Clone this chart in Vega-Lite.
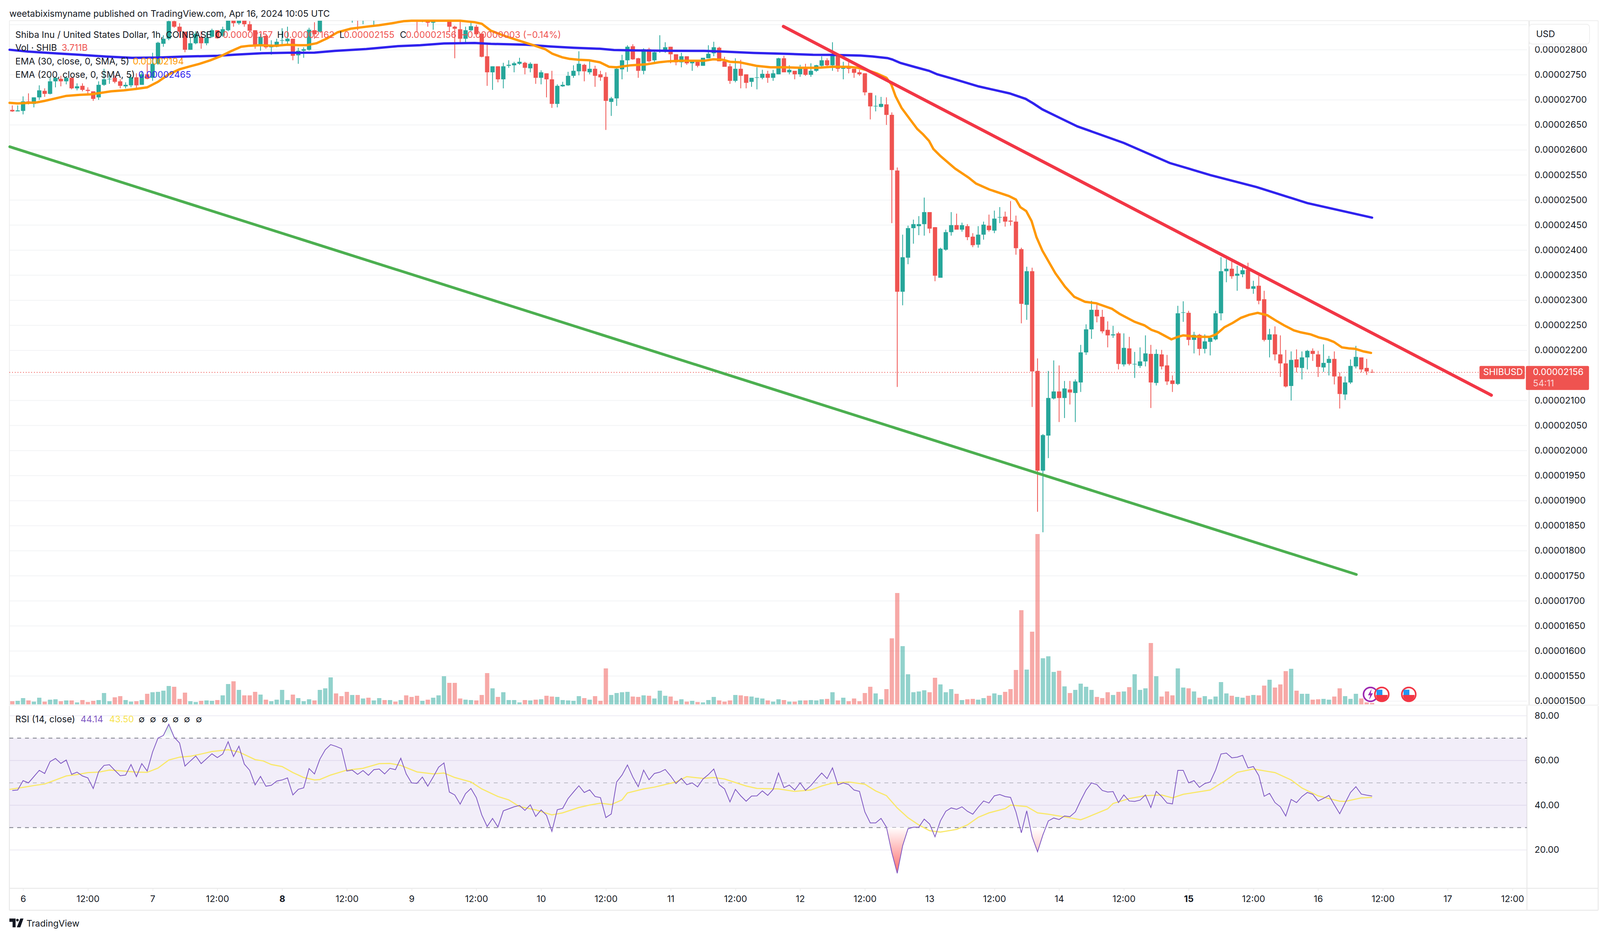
{"$schema":"https://vega.github.io/schema/vega-lite/v6.json","background":"white","padding":0,"autosize":{"type":"fit","contains":"padding"},"width":4310,"height":2396,
"config":{"view":{"stroke":null},"font":"Inter","text":{"font":"Inter"},"axis":{"labelFont":"Inter"}},
"datasets":{
"candles":[
{"hour":-2,"open":2680,"high":2689,"low":2676,"close":2677,"vol":8,"rsi":46.6},{"hour":-1,"open":2677,"high":2689,"low":2677,"close":2679,"vol":9,"rsi":46.8},{"hour":0,"open":2678,"high":2707,"low":2671,"close":2697,"vol":16,"rsi":51},{"hour":1,"open":2697,"high":2713,"low":2691,"close":2692,"vol":10,"rsi":50},{"hour":2,"open":2692,"high":2705,"low":2685,"close":2705,"vol":7,"rsi":52.8},{"hour":3,"open":2705,"high":2729,"low":2700,"close":2719,"vol":17,"rsi":55.6},{"hour":4,"open":2718,"high":2723,"low":2706,"close":2712,"vol":7,"rsi":54.2},{"hour":5,"open":2712,"high":2745,"low":2711,"close":2737,"vol":12,"rsi":59.5},{"hour":6,"open":2737,"high":2745,"low":2725,"close":2744,"vol":13,"rsi":60.9},{"hour":7,"open":2742,"high":2748,"low":2727,"close":2737,"vol":8,"rsi":58.7},{"hour":8,"open":2737,"high":2746,"low":2731,"close":2744,"vol":10,"rsi":60.2},{"hour":9,"open":2744,"high":2744,"low":2721,"close":2723,"vol":10,"rsi":53.8},{"hour":10,"open":2723,"high":2733,"low":2719,"close":2727,"vol":5,"rsi":54.8},{"hour":11,"open":2728,"high":2733,"low":2717,"close":2720,"vol":11,"rsi":53.1},{"hour":12,"open":2720,"high":2725,"low":2709,"close":2718,"vol":6,"rsi":52.2},{"hour":13,"open":2717,"high":2717,"low":2698,"close":2702,"vol":9,"rsi":47.5},{"hour":14,"open":2705,"high":2737,"low":2700,"close":2730,"vol":11,"rsi":55},{"hour":15,"open":2730,"high":2762,"low":2728,"close":2741,"vol":29,"rsi":57.8},{"hour":16,"open":2741,"high":2750,"low":2732,"close":2742,"vol":8,"rsi":58.1},{"hour":17,"open":2744,"high":2749,"low":2733,"close":2736,"vol":18,"rsi":55.6},{"hour":18,"open":2737,"high":2741,"low":2723,"close":2728,"vol":21,"rsi":53.2},{"hour":19,"open":2727,"high":2735,"low":2723,"close":2730,"vol":11,"rsi":53.5},{"hour":20,"open":2729,"high":2750,"low":2725,"close":2745,"vol":7,"rsi":58.2},{"hour":21,"open":2745,"high":2753,"low":2723,"close":2729,"vol":8,"rsi":52.8},{"hour":22,"open":2730,"high":2758,"low":2730,"close":2751,"vol":11,"rsi":58.6},{"hour":23,"open":2751,"high":2772,"low":2741,"close":2742,"vol":27,"rsi":55.3},{"hour":24,"open":2744,"high":2794,"low":2738,"close":2772,"vol":31,"rsi":63.8},{"hour":25,"open":2772,"high":2816,"low":2770,"close":2814,"vol":32,"rsi":70},{"hour":26,"open":2812,"high":2829,"low":2806,"close":2822,"vol":35,"rsi":71.2},{"hour":27,"open":2822,"high":2861,"low":2819,"close":2857,"vol":47,"rsi":76.2},{"hour":28,"open":2857,"high":2862,"low":2844,"close":2846,"vol":45,"rsi":70.4},{"hour":29,"open":2846,"high":2853,"low":2824,"close":2836,"vol":14,"rsi":67.8},{"hour":30,"open":2836,"high":2836,"low":2795,"close":2800,"vol":30,"rsi":57.5},{"hour":31,"open":2800,"high":2824,"low":2800,"close":2813,"vol":8,"rsi":59.8},{"hour":32,"open":2813,"high":2837,"low":2811,"close":2832,"vol":6,"rsi":62},{"hour":33,"open":2826,"high":2837,"low":2802,"close":2813,"vol":9,"rsi":58.6},{"hour":34,"open":2813,"high":2835,"low":2809,"close":2824,"vol":10,"rsi":60.8},{"hour":35,"open":2826,"high":2842,"low":2824,"close":2839,"vol":9,"rsi":63},{"hour":36,"open":2839,"high":2839,"low":2822,"close":2823,"vol":11,"rsi":61.3},{"hour":37,"open":2828,"high":2846,"low":2826,"close":2841,"vol":23,"rsi":62.9},{"hour":38,"open":2839,"high":2870,"low":2837,"close":2860,"vol":52,"rsi":68.4},{"hour":39,"open":2858,"high":2865,"low":2846,"close":2853,"vol":59,"rsi":61.8},{"hour":40,"open":2853,"high":2870,"low":2850,"close":2865,"vol":37,"rsi":66.4},{"hour":41,"open":2860,"high":2868,"low":2846,"close":2851,"vol":23,"rsi":58.4},{"hour":42,"open":2851,"high":2857,"low":2835,"close":2838,"vol":23,"rsi":55.6},{"hour":43,"open":2839,"high":2839,"low":2802,"close":2807,"vol":32,"rsi":49.1},{"hour":44,"open":2807,"high":2832,"low":2798,"close":2826,"vol":25,"rsi":52.9},{"hour":45,"open":2828,"high":2829,"low":2802,"close":2805,"vol":12,"rsi":48.5},{"hour":46,"open":2805,"high":2819,"low":2790,"close":2807,"vol":8,"rsi":48.9},{"hour":47,"open":2806,"high":2822,"low":2805,"close":2816,"vol":12,"rsi":50.8},{"hour":48,"open":2818,"high":2843,"low":2808,"close":2819,"vol":37,"rsi":51.3},{"hour":49,"open":2817,"high":2846,"low":2809,"close":2822,"vol":11,"rsi":52.2},{"hour":50,"open":2822,"high":2822,"low":2779,"close":2788,"vol":25,"rsi":44.6},{"hour":51,"open":2789,"high":2804,"low":2772,"close":2798,"vol":16,"rsi":47.1},{"hour":52,"open":2798,"high":2805,"low":2784,"close":2801,"vol":8,"rsi":47.8},{"hour":53,"open":2800,"high":2844,"low":2798,"close":2840,"vol":13,"rsi":56.4},{"hour":54,"open":2839,"high":2855,"low":2822,"close":2831,"vol":10,"rsi":54},{"hour":55,"open":2836,"high":2885,"low":2835,"close":2875,"vol":37,"rsi":60.6},{"hour":56,"open":2875,"high":2900,"low":2865,"close":2890,"vol":41,"rsi":64.8},{"hour":57,"open":2890,"high":2925,"low":2885,"close":2915,"vol":69,"rsi":67.1},{"hour":58,"open":2915,"high":2925,"low":2895,"close":2905,"vol":28,"rsi":66.3},{"hour":59,"open":2905,"high":2915,"low":2885,"close":2895,"vol":21,"rsi":65.3},{"hour":60,"open":2895,"high":2900,"low":2870,"close":2885,"vol":32,"rsi":55.3},{"hour":61,"open":2870,"high":2895,"low":2854,"close":2885,"vol":24,"rsi":55.7},{"hour":62,"open":2885,"high":2892,"low":2839,"close":2870,"vol":24,"rsi":53.8},{"hour":63,"open":2870,"high":2890,"low":2851,"close":2880,"vol":15,"rsi":55.5},{"hour":64,"open":2880,"high":2888,"low":2862,"close":2872,"vol":17,"rsi":53.4},{"hour":65,"open":2872,"high":2895,"low":2849,"close":2885,"vol":10,"rsi":55.9},{"hour":66,"open":2885,"high":2905,"low":2875,"close":2895,"vol":16,"rsi":56.2},{"hour":67,"open":2895,"high":2900,"low":2870,"close":2885,"vol":11,"rsi":54},{"hour":68,"open":2885,"high":2905,"low":2878,"close":2895,"vol":11,"rsi":56.5},{"hour":69,"open":2895,"high":2900,"low":2878,"close":2888,"vol":7,"rsi":55.9},{"hour":70,"open":2888,"high":2905,"low":2880,"close":2895,"vol":11,"rsi":61},{"hour":71,"open":2895,"high":2905,"low":2870,"close":2885,"vol":23,"rsi":54},{"hour":72,"open":2885,"high":2892,"low":2865,"close":2878,"vol":19,"rsi":50},{"hour":73,"open":2878,"high":2890,"low":2835,"close":2870,"vol":22,"rsi":49.8},{"hour":74,"open":2870,"high":2885,"low":2855,"close":2875,"vol":9,"rsi":52.6},{"hour":75,"open":2865,"high":2875,"low":2846,"close":2854,"vol":12,"rsi":48.5},{"hour":76,"open":2854,"high":2880,"low":2840,"close":2870,"vol":17,"rsi":52.6},{"hour":77,"open":2870,"high":2890,"low":2860,"close":2880,"vol":23,"rsi":57},{"hour":78,"open":2880,"high":2905,"low":2875,"close":2895,"vol":72,"rsi":58.9},{"hour":79,"open":2895,"high":2905,"low":2835,"close":2846,"vol":55,"rsi":45.9},{"hour":80,"open":2846,"high":2848,"low":2783,"close":2842,"vol":55,"rsi":44.6},{"hour":81,"open":2841,"high":2857,"low":2815,"close":2822,"vol":15,"rsi":40.5},{"hour":82,"open":2822,"high":2846,"low":2815,"close":2839,"vol":12,"rsi":45.2},{"hour":83,"open":2839,"high":2855,"low":2837,"close":2847,"vol":11,"rsi":47.5},{"hour":84,"open":2846,"high":2850,"low":2828,"close":2831,"vol":10,"rsi":43.4},{"hour":85,"open":2832,"high":2833,"low":2785,"close":2786,"vol":24,"rsi":35.7},{"hour":86,"open":2787,"high":2810,"low":2728,"close":2755,"vol":80,"rsi":30.5},{"hour":87,"open":2755,"high":2767,"low":2720,"close":2767,"vol":41,"rsi":34.1},{"hour":88,"open":2767,"high":2767,"low":2735,"close":2741,"vol":19,"rsi":30.3},{"hour":89,"open":2741,"high":2774,"low":2723,"close":2767,"vol":31,"rsi":37.5},{"hour":90,"open":2768,"high":2779,"low":2764,"close":2770,"vol":11,"rsi":38.4},{"hour":91,"open":2769,"high":2776,"low":2755,"close":2773,"vol":11,"rsi":39.3},{"hour":92,"open":2772,"high":2784,"low":2770,"close":2776,"vol":5,"rsi":39.9},{"hour":93,"open":2774,"high":2776,"low":2751,"close":2764,"vol":11,"rsi":37.7},{"hour":94,"open":2763,"high":2775,"low":2755,"close":2772,"vol":10,"rsi":40.2},{"hour":95,"open":2772,"high":2772,"low":2732,"close":2744,"vol":12,"rsi":35},{"hour":96,"open":2744,"high":2759,"low":2731,"close":2755,"vol":13,"rsi":37.9},{"hour":97,"open":2753,"high":2753,"low":2705,"close":2741,"vol":22,"rsi":35.5},{"hour":98,"open":2741,"high":2758,"low":2684,"close":2692,"vol":20,"rsi":28.3},{"hour":99,"open":2692,"high":2731,"low":2685,"close":2728,"vol":19,"rsi":38},{"hour":100,"open":2727,"high":2736,"low":2726,"close":2730,"vol":11,"rsi":38.6},{"hour":101,"open":2729,"high":2756,"low":2728,"close":2748,"vol":10,"rsi":43},{"hour":102,"open":2748,"high":2769,"low":2744,"close":2758,"vol":9,"rsi":45.9},{"hour":103,"open":2757,"high":2797,"low":2749,"close":2772,"vol":21,"rsi":48.7},{"hour":104,"open":2770,"high":2772,"low":2737,"close":2757,"vol":16,"rsi":45.7},{"hour":105,"open":2755,"high":2779,"low":2751,"close":2762,"vol":12,"rsi":46.9},{"hour":106,"open":2762,"high":2768,"low":2726,"close":2748,"vol":21,"rsi":43.9},{"hour":107,"open":2751,"high":2758,"low":2738,"close":2745,"vol":9,"rsi":43.4},{"hour":108,"open":2746,"high":2755,"low":2640,"close":2698,"vol":92,"rsi":34.5},{"hour":109,"open":2696,"high":2706,"low":2668,"close":2703,"vol":24,"rsi":36.1},{"hour":110,"open":2703,"high":2764,"low":2688,"close":2762,"vol":29,"rsi":50.4},{"hour":111,"open":2761,"high":2790,"low":2741,"close":2779,"vol":31,"rsi":53.5},{"hour":112,"open":2779,"high":2809,"low":2756,"close":2806,"vol":32,"rsi":58},{"hour":113,"open":2807,"high":2811,"low":2780,"close":2781,"vol":20,"rsi":52.6},{"hour":114,"open":2783,"high":2784,"low":2744,"close":2758,"vol":19,"rsi":48.3},{"hour":115,"open":2758,"high":2803,"low":2751,"close":2801,"vol":23,"rsi":55.7},{"hour":116,"open":2801,"high":2804,"low":2775,"close":2777,"vol":22,"rsi":51.4},{"hour":117,"open":2779,"high":2798,"low":2774,"close":2795,"vol":15,"rsi":54.2},{"hour":118,"open":2798,"high":2829,"low":2794,"close":2799,"vol":35,"rsi":54.8},{"hour":119,"open":2798,"high":2815,"low":2794,"close":2805,"vol":22,"rsi":56},{"hour":120,"open":2806,"high":2806,"low":2773,"close":2791,"vol":20,"rsi":53.1},{"hour":121,"open":2791,"high":2791,"low":2769,"close":2775,"vol":9,"rsi":49.7},{"hour":122,"open":2775,"high":2794,"low":2765,"close":2787,"vol":13,"rsi":52},{"hour":123,"open":2787,"high":2787,"low":2770,"close":2773,"vol":7,"rsi":49.2},{"hour":124,"open":2773,"high":2780,"low":2758,"close":2777,"vol":9,"rsi":50},{"hour":125,"open":2776,"high":2780,"low":2765,"close":2768,"vol":6,"rsi":48.2},{"hour":126,"open":2768,"high":2784,"low":2768,"close":2784,"vol":5,"rsi":51.7},{"hour":127,"open":2783,"high":2809,"low":2783,"close":2792,"vol":11,"rsi":53.7},{"hour":128,"open":2793,"high":2816,"low":2787,"close":2805,"vol":19,"rsi":56.2},{"hour":129,"open":2804,"high":2806,"low":2777,"close":2777,"vol":10,"rsi":49.2},{"hour":130,"open":2777,"high":2786,"low":2766,"close":2766,"vol":7,"rsi":47.3},{"hour":131,"open":2767,"high":2772,"low":2732,"close":2738,"vol":10,"rsi":41.5},{"hour":132,"open":2738,"high":2783,"low":2735,"close":2762,"vol":24,"rsi":47.1},{"hour":133,"open":2762,"high":2780,"low":2723,"close":2748,"vol":23,"rsi":44.2},{"hour":134,"open":2751,"high":2751,"low":2723,"close":2734,"vol":21,"rsi":41.8},{"hour":135,"open":2736,"high":2744,"low":2726,"close":2744,"vol":20,"rsi":44.1},{"hour":136,"open":2744,"high":2765,"low":2721,"close":2745,"vol":17,"rsi":44.2},{"hour":137,"open":2744,"high":2760,"low":2741,"close":2752,"vol":15,"rsi":46.4},{"hour":138,"open":2752,"high":2758,"low":2734,"close":2744,"vol":10,"rsi":44.4},{"hour":139,"open":2744,"high":2760,"low":2738,"close":2753,"vol":7,"rsi":47.1},{"hour":140,"open":2751,"high":2784,"low":2751,"close":2783,"vol":13,"rsi":54.4},{"hour":141,"open":2783,"high":2788,"low":2755,"close":2755,"vol":11,"rsi":47.9},{"hour":142,"open":2755,"high":2769,"low":2751,"close":2760,"vol":7,"rsi":49},{"hour":143,"open":2758,"high":2758,"low":2741,"close":2751,"vol":7,"rsi":46.8},{"hour":144,"open":2751,"high":2770,"low":2746,"close":2763,"vol":10,"rsi":50},{"hour":145,"open":2765,"high":2772,"low":2748,"close":2750,"vol":10,"rsi":46.7},{"hour":146,"open":2750,"high":2773,"low":2746,"close":2758,"vol":11,"rsi":48.8},{"hour":147,"open":2758,"high":2770,"low":2756,"close":2769,"vol":10,"rsi":51.7},{"hour":148,"open":2768,"high":2787,"low":2763,"close":2779,"vol":13,"rsi":54.4},{"hour":149,"open":2779,"high":2783,"low":2766,"close":2769,"vol":14,"rsi":51.9},{"hour":150,"open":2769,"high":2815,"low":2758,"close":2790,"vol":31,"rsi":56.7},{"hour":151,"open":2790,"high":2790,"low":2756,"close":2762,"vol":10,"rsi":49.1},{"hour":152,"open":2762,"high":2776,"low":2741,"close":2766,"vol":17,"rsi":50},{"hour":153,"open":2767,"high":2776,"low":2753,"close":2762,"vol":8,"rsi":49.2},{"hour":154,"open":2762,"high":2762,"low":2744,"close":2754,"vol":15,"rsi":46.8},{"hour":155,"open":2755,"high":2760,"low":2748,"close":2751,"vol":8,"rsi":46.2},{"hour":156,"open":2753,"high":2753,"low":2709,"close":2715,"vol":29,"rsi":37},{"hour":157,"open":2714,"high":2714,"low":2661,"close":2687,"vol":45,"rsi":32.1},{"hour":158,"open":2687,"high":2709,"low":2677,"close":2688,"vol":28,"rsi":32.1},{"hour":159,"open":2686,"high":2706,"low":2685,"close":2692,"vol":13,"rsi":34.1},{"hour":160,"open":2691,"high":2705,"low":2650,"close":2670,"vol":39,"rsi":30.2},{"hour":161,"open":2670,"high":2675,"low":2454,"close":2560,"vol":169,"rsi":18.8},{"hour":162,"open":2559,"high":2565,"low":2127,"close":2317,"vol":285,"rsi":9.6},{"hour":163,"open":2317,"high":2431,"low":2290,"close":2386,"vol":149,"rsi":21.9},{"hour":164,"open":2385,"high":2449,"low":2372,"close":2444,"vol":77,"rsi":29.5},{"hour":165,"open":2444,"high":2461,"low":2413,"close":2452,"vol":31,"rsi":30.2},{"hour":166,"open":2448,"high":2468,"low":2430,"close":2452,"vol":33,"rsi":30.2},{"hour":167,"open":2452,"high":2505,"low":2429,"close":2476,"vol":36,"rsi":33.8},{"hour":168,"open":2476,"high":2476,"low":2434,"close":2443,"vol":31,"rsi":31.6},{"hour":169,"open":2446,"high":2446,"low":2338,"close":2349,"vol":68,"rsi":25.9},{"hour":170,"open":2345,"high":2405,"low":2345,"close":2403,"vol":51,"rsi":33},{"hour":171,"open":2401,"high":2441,"low":2399,"close":2436,"vol":31,"rsi":37.3},{"hour":172,"open":2436,"high":2476,"low":2429,"close":2450,"vol":39,"rsi":38.8},{"hour":173,"open":2450,"high":2473,"low":2441,"close":2441,"vol":27,"rsi":38.2},{"hour":174,"open":2441,"high":2455,"low":2437,"close":2450,"vol":11,"rsi":39.3},{"hour":175,"open":2448,"high":2452,"low":2420,"close":2426,"vol":13,"rsi":37.3},{"hour":176,"open":2427,"high":2434,"low":2406,"close":2410,"vol":14,"rsi":36},{"hour":177,"open":2411,"high":2448,"low":2405,"close":2431,"vol":12,"rsi":39.1},{"hour":178,"open":2431,"high":2457,"low":2421,"close":2451,"vol":16,"rsi":41.9},{"hour":179,"open":2449,"high":2471,"low":2437,"close":2440,"vol":22,"rsi":41},{"hour":180,"open":2439,"high":2479,"low":2434,"close":2463,"vol":28,"rsi":44.2},{"hour":181,"open":2465,"high":2486,"low":2454,"close":2466,"vol":24,"rsi":44.8},{"hour":182,"open":2467,"high":2477,"low":2447,"close":2457,"vol":32,"rsi":43.9},{"hour":183,"open":2459,"high":2498,"low":2449,"close":2457,"vol":39,"rsi":43.5},{"hour":184,"open":2457,"high":2469,"low":2391,"close":2404,"vol":88,"rsi":37},{"hour":185,"open":2402,"high":2405,"low":2254,"close":2293,"vol":241,"rsi":27.7},{"hour":186,"open":2291,"high":2367,"low":2261,"close":2358,"vol":89,"rsi":37.5},{"hour":187,"open":2358,"high":2365,"low":2087,"close":2158,"vol":186,"rsi":25.9},{"hour":188,"open":2159,"high":2184,"low":1878,"close":1960,"vol":436,"rsi":19.2},{"hour":189,"open":1960,"high":2033,"low":1837,"close":2031,"vol":118,"rsi":26.8},{"hour":190,"open":2030,"high":2159,"low":1985,"close":2105,"vol":123,"rsi":33},{"hour":191,"open":2104,"high":2180,"low":2102,"close":2118,"vol":83,"rsi":34.3},{"hour":192,"open":2118,"high":2170,"low":2057,"close":2105,"vol":86,"rsi":33.6},{"hour":193,"open":2105,"high":2139,"low":2065,"close":2124,"vol":46,"rsi":35.2},{"hour":194,"open":2122,"high":2139,"low":2092,"close":2116,"vol":29,"rsi":34.9},{"hour":195,"open":2115,"high":2142,"low":2057,"close":2138,"vol":37,"rsi":37},{"hour":196,"open":2136,"high":2211,"low":2117,"close":2196,"vol":53,"rsi":42.1},{"hour":197,"open":2196,"high":2252,"low":2191,"close":2242,"vol":45,"rsi":46.8},{"hour":198,"open":2242,"high":2299,"low":2223,"close":2281,"vol":37,"rsi":50},{"hour":199,"open":2281,"high":2291,"low":2256,"close":2268,"vol":19,"rsi":49.2},{"hour":200,"open":2267,"high":2281,"low":2234,"close":2238,"vol":16,"rsi":46.6},{"hour":201,"open":2241,"high":2258,"low":2206,"close":2230,"vol":31,"rsi":45.9},{"hour":202,"open":2230,"high":2249,"low":2225,"close":2232,"vol":24,"rsi":46.1},{"hour":203,"open":2234,"high":2237,"low":2162,"close":2173,"vol":32,"rsi":41.2},{"hour":204,"open":2172,"high":2234,"low":2168,"close":2205,"vol":33,"rsi":44.6},{"hour":205,"open":2204,"high":2227,"low":2170,"close":2173,"vol":44,"rsi":41.9},{"hour":206,"open":2172,"high":2197,"low":2145,"close":2173,"vol":77,"rsi":41.7},{"hour":207,"open":2169,"high":2206,"low":2165,"close":2178,"vol":37,"rsi":42.3},{"hour":208,"open":2178,"high":2230,"low":2168,"close":2194,"vol":41,"rsi":44.6},{"hour":209,"open":2193,"high":2211,"low":2085,"close":2136,"vol":157,"rsi":39},{"hour":210,"open":2135,"high":2202,"low":2130,"close":2193,"vol":72,"rsi":46.2},{"hour":211,"open":2192,"high":2201,"low":2162,"close":2168,"vol":20,"rsi":43.9},{"hour":212,"open":2170,"high":2191,"low":2131,"close":2138,"vol":33,"rsi":41},{"hour":213,"open":2140,"high":2150,"low":2117,"close":2133,"vol":23,"rsi":40.6},{"hour":214,"open":2133,"high":2289,"low":2131,"close":2274,"vol":92,"rsi":55.6},{"hour":215,"open":2275,"high":2298,"low":2257,"close":2276,"vol":43,"rsi":55.6},{"hour":216,"open":2275,"high":2279,"low":2210,"close":2221,"vol":41,"rsi":50},{"hour":217,"open":2221,"high":2237,"low":2194,"close":2231,"vol":33,"rsi":51},{"hour":218,"open":2231,"high":2233,"low":2190,"close":2203,"vol":17,"rsi":48},{"hour":219,"open":2203,"high":2232,"low":2194,"close":2218,"vol":21,"rsi":49.7},{"hour":220,"open":2217,"high":2226,"low":2190,"close":2225,"vol":13,"rsi":50.4},{"hour":221,"open":2222,"high":2279,"low":2220,"close":2274,"vol":20,"rsi":55.7},{"hour":222,"open":2274,"high":2386,"low":2260,"close":2358,"vol":57,"rsi":62.9},{"hour":223,"open":2358,"high":2382,"low":2336,"close":2363,"vol":28,"rsi":63.3},{"hour":224,"open":2363,"high":2379,"low":2343,"close":2348,"vol":22,"rsi":61.2},{"hour":225,"open":2349,"high":2369,"low":2319,"close":2353,"vol":19,"rsi":61.5},{"hour":226,"open":2352,"high":2367,"low":2346,"close":2360,"vol":17,"rsi":62.3},{"hour":227,"open":2361,"high":2375,"low":2322,"close":2323,"vol":22,"rsi":56.7},{"hour":228,"open":2323,"high":2339,"low":2313,"close":2328,"vol":24,"rsi":57.3},{"hour":229,"open":2329,"high":2349,"low":2292,"close":2299,"vol":23,"rsi":53.3},{"hour":230,"open":2302,"high":2319,"low":2218,"close":2221,"vol":48,"rsi":44},{"hour":231,"open":2221,"high":2243,"low":2186,"close":2232,"vol":63,"rsi":45.3},{"hour":232,"open":2232,"high":2248,"low":2180,"close":2192,"vol":43,"rsi":41.2},{"hour":233,"open":2192,"high":2230,"low":2147,"close":2174,"vol":51,"rsi":39.3},{"hour":234,"open":2174,"high":2201,"low":2126,"close":2128,"vol":85,"rsi":35.2},{"hour":235,"open":2129,"high":2198,"low":2100,"close":2181,"vol":91,"rsi":42.6},{"hour":236,"open":2182,"high":2202,"low":2156,"close":2166,"vol":35,"rsi":41.2},{"hour":237,"open":2165,"high":2198,"low":2142,"close":2186,"vol":27,"rsi":43.9},{"hour":238,"open":2186,"high":2201,"low":2162,"close":2199,"vol":27,"rsi":45.7},{"hour":239,"open":2199,"high":2204,"low":2179,"close":2193,"vol":12,"rsi":44.9},{"hour":240,"open":2192,"high":2199,"low":2147,"close":2167,"vol":13,"rsi":41.9},{"hour":241,"open":2166,"high":2212,"low":2157,"close":2175,"vol":14,"rsi":43.1},{"hour":242,"open":2175,"high":2189,"low":2150,"close":2183,"vol":12,"rsi":44.4},{"hour":243,"open":2183,"high":2198,"low":2132,"close":2148,"vol":20,"rsi":40.2},{"hour":244,"open":2148,"high":2156,"low":2084,"close":2113,"vol":41,"rsi":36.2},{"hour":245,"open":2112,"high":2148,"low":2101,"close":2136,"vol":21,"rsi":41},{"hour":246,"open":2136,"high":2182,"low":2133,"close":2169,"vol":14,"rsi":45.7},{"hour":247,"open":2168,"high":2209,"low":2164,"close":2187,"vol":27,"rsi":48.3},{"hour":248,"open":2186,"high":2186,"low":2156,"close":2162,"vol":15,"rsi":45},{"hour":249,"open":2165,"high":2183,"low":2151,"close":2158,"vol":5,"rsi":44.5},{"hour":250,"open":2157,"high":2162,"low":2155,"close":2156,"vol":3.7,"rsi":44.1}
],
"ema30":[{"hour":-2.5,"price":2694},{"hour":-1,"price":2693},{"hour":1,"price":2694},{"hour":2.6,"price":2695},{"hour":4,"price":2698},{"hour":6,"price":2703},{"hour":8,"price":2708},{"hour":10.5,"price":2710},{"hour":12.5,"price":2711},{"hour":14.4,"price":2714},{"hour":16.3,"price":2717},{"hour":18.7,"price":2719},{"hour":21,"price":2722},{"hour":23,"price":2725},{"hour":25,"price":2736},{"hour":27,"price":2751},{"hour":29,"price":2761},{"hour":31,"price":2767},{"hour":32.7,"price":2772},{"hour":34.7,"price":2779},{"hour":36.6,"price":2787},{"hour":38.5,"price":2797},{"hour":40.4,"price":2806},{"hour":41.9,"price":2808},{"hour":44,"price":2809},{"hour":46.7,"price":2808},{"hour":49,"price":2810},{"hour":51,"price":2809},{"hour":52.5,"price":2809},{"hour":54.4,"price":2813},{"hour":56.4,"price":2823},{"hour":58.3,"price":2835},{"hour":60.7,"price":2842},{"hour":63.6,"price":2846},{"hour":66,"price":2849},{"hour":68.4,"price":2853},{"hour":70.5,"price":2857},{"hour":72,"price":2859},{"hour":75,"price":2859},{"hour":78,"price":2859},{"hour":81,"price":2859},{"hour":83.7,"price":2855},{"hour":85,"price":2852},{"hour":86.7,"price":2838},{"hour":89.4,"price":2827},{"hour":92,"price":2818},{"hour":94.6,"price":2809},{"hour":96.8,"price":2801},{"hour":98.1,"price":2792},{"hour":99.9,"price":2785},{"hour":101.2,"price":2782},{"hour":103,"price":2780},{"hour":104.9,"price":2779},{"hour":106.9,"price":2775},{"hour":108.6,"price":2766},{"hour":110,"price":2765},{"hour":111.3,"price":2767},{"hour":112.6,"price":2769},{"hour":114.3,"price":2770},{"hour":115.6,"price":2771},{"hour":117.8,"price":2775},{"hour":119.6,"price":2777},{"hour":121.8,"price":2778},{"hour":124,"price":2778},{"hour":126.2,"price":2778},{"hour":127.9,"price":2781},{"hour":129.7,"price":2780},{"hour":131,"price":2776},{"hour":132.8,"price":2775},{"hour":135.9,"price":2768},{"hour":138.5,"price":2765},{"hour":141.1,"price":2765},{"hour":144.2,"price":2764},{"hour":147.3,"price":2764},{"hour":149.9,"price":2766},{"hour":153,"price":2766},{"hour":154.7,"price":2764},{"hour":156.5,"price":2759},{"hour":158.2,"price":2753},{"hour":160,"price":2744},{"hour":160.9,"price":2731},{"hour":161.7,"price":2707},{"hour":162.8,"price":2684},{"hour":163.9,"price":2668},{"hour":165.7,"price":2642},{"hour":166.8,"price":2631},{"hour":167.9,"price":2618},{"hour":168.7,"price":2602},{"hour":170,"price":2588},{"hour":172.7,"price":2563},{"hour":175.2,"price":2545},{"hour":176.6,"price":2533},{"hour":179.1,"price":2521},{"hour":182.7,"price":2508},{"hour":184,"price":2501},{"hour":184.8,"price":2486},{"hour":185.9,"price":2478},{"hour":186.9,"price":2458},{"hour":187.8,"price":2426},{"hour":188.9,"price":2399},{"hour":191.3,"price":2354},{"hour":193.1,"price":2327},{"hour":194.8,"price":2307},{"hour":196.8,"price":2297},{"hour":198.9,"price":2294},{"hour":201.8,"price":2283},{"hour":203.2,"price":2273},{"hour":206,"price":2257},{"hour":207.8,"price":2250},{"hour":209.1,"price":2241},{"hour":210.4,"price":2236},{"hour":211.6,"price":2229},{"hour":212.8,"price":2222},{"hour":214,"price":2227},{"hour":215,"price":2230},{"hour":216.8,"price":2228},{"hour":218.3,"price":2227},{"hour":219.9,"price":2227},{"hour":221.1,"price":2232},{"hour":222.6,"price":2246},{"hour":224.2,"price":2255},{"hour":225.7,"price":2265},{"hour":227.2,"price":2271},{"hour":228.8,"price":2275},{"hour":230.6,"price":2270},{"hour":232.1,"price":2260},{"hour":233.7,"price":2250},{"hour":235.5,"price":2240},{"hour":236.8,"price":2236},{"hour":238.6,"price":2232},{"hour":240.1,"price":2226},{"hour":241.7,"price":2222},{"hour":242.9,"price":2217},{"hour":244.4,"price":2206},{"hour":245.7,"price":2204},{"hour":246.9,"price":2203},{"hour":248.4,"price":2198},{"hour":249.8,"price":2195}],
"ema200":[{"hour":-2.5,"price":2800},{"hour":0.9,"price":2796.4},{"hour":5.7,"price":2793},{"hour":10.5,"price":2790},{"hour":15.4,"price":2786.5},{"hour":20.2,"price":2784},{"hour":25,"price":2784.5},{"hour":29.8,"price":2786.5},{"hour":36.1,"price":2788},{"hour":39.5,"price":2790.4},{"hour":44.3,"price":2793},{"hour":49.1,"price":2794},{"hour":54,"price":2794.3},{"hour":57.8,"price":2797.7},{"hour":63.6,"price":2801.5},{"hour":69.2,"price":2807},{"hour":73.6,"price":2809},{"hour":78,"price":2812.5},{"hour":83.7,"price":2813.6},{"hour":86.7,"price":2811.8},{"hour":93.3,"price":2810},{"hour":97.7,"price":2806.6},{"hour":102,"price":2804},{"hour":106.9,"price":2802},{"hour":109.5,"price":2799.5},{"hour":113,"price":2798.8},{"hour":119.6,"price":2798},{"hour":126.2,"price":2797.7},{"hour":129.7,"price":2796.5},{"hour":135.4,"price":2793.6},{"hour":142,"price":2791.7},{"hour":146.4,"price":2790},{"hour":149.9,"price":2789.7},{"hour":155.2,"price":2788.4},{"hour":157.4,"price":2786.6},{"hour":160.2,"price":2783.4},{"hour":161.1,"price":2780.6},{"hour":162.6,"price":2773.6},{"hour":165.2,"price":2765.8},{"hour":167.9,"price":2758},{"hour":169.4,"price":2751},{"hour":172.7,"price":2741},{"hour":177.1,"price":2726.8},{"hour":182.8,"price":2713},{"hour":185.8,"price":2702},{"hour":187.2,"price":2693},{"hour":188.9,"price":2681},{"hour":192.4,"price":2662.6},{"hour":195.4,"price":2647},{"hour":204,"price":2614},{"hour":212.5,"price":2574},{"hour":220,"price":2550},{"hour":228.6,"price":2526},{"hour":238,"price":2494},{"hour":250,"price":2465}],
"rsiMA":[{"hour":-2.5,"rsi":47.1},{"hour":0,"rsi":48},{"hour":2,"rsi":48.8},{"hour":4,"rsi":49.5},{"hour":6,"rsi":51.3},{"hour":8,"rsi":53.1},{"hour":10,"rsi":53.7},{"hour":12,"rsi":54.6},{"hour":14,"rsi":54.8},{"hour":16,"rsi":55.7},{"hour":18,"rsi":55.4},{"hour":21,"rsi":54.8},{"hour":23,"rsi":54.7},{"hour":25,"rsi":56.6},{"hour":27,"rsi":60.2},{"hour":29,"rsi":61.5},{"hour":31,"rsi":61.9},{"hour":33,"rsi":62.9},{"hour":35,"rsi":64},{"hour":38,"rsi":64.8},{"hour":40,"rsi":63.8},{"hour":43,"rsi":60.4},{"hour":44.5,"rsi":59.8},{"hour":46,"rsi":58.2},{"hour":48,"rsi":57.3},{"hour":50,"rsi":54.6},{"hour":52,"rsi":52.4},{"hour":54,"rsi":51.3},{"hour":55,"rsi":51.5},{"hour":57,"rsi":53.5},{"hour":60,"rsi":55.7},{"hour":63,"rsi":56.5},{"hour":66,"rsi":58.6},{"hour":68,"rsi":58.7},{"hour":70,"rsi":57.8},{"hour":73,"rsi":54.9},{"hour":76,"rsi":54},{"hour":78,"rsi":54.4},{"hour":80,"rsi":52.4},{"hour":83,"rsi":50.4},{"hour":85,"rsi":47.3},{"hour":88,"rsi":43.9},{"hour":90,"rsi":42.4},{"hour":92,"rsi":39.4},{"hour":95,"rsi":37.9},{"hour":98,"rsi":35.7},{"hour":100,"rsi":36.6},{"hour":103,"rsi":39},{"hour":105,"rsi":40.1},{"hour":107,"rsi":40.9},{"hour":109,"rsi":40.3},{"hour":111,"rsi":42.4},{"hour":112,"rsi":45.5},{"hour":115,"rsi":47.3},{"hour":117,"rsi":48.1},{"hour":121,"rsi":50.4},{"hour":123,"rsi":52.8},{"hour":126,"rsi":52},{"hour":128,"rsi":52.4},{"hour":130,"rsi":51.7},{"hour":134,"rsi":48.6},{"hour":136,"rsi":47.5},{"hour":140,"rsi":47.3},{"hour":143,"rsi":46.2},{"hour":146,"rsi":46.8},{"hour":148,"rsi":48.6},{"hour":150,"rsi":49.9},{"hour":153,"rsi":50.4},{"hour":156,"rsi":49.4},{"hour":158,"rsi":46.4},{"hour":160,"rsi":44.3},{"hour":162,"rsi":38.8},{"hour":164,"rsi":34.4},{"hour":166,"rsi":31.2},{"hour":168,"rsi":28.6},{"hour":170,"rsi":28},{"hour":173,"rsi":29.2},{"hour":175,"rsi":31.2},{"hour":177,"rsi":34.6},{"hour":179,"rsi":36.6},{"hour":182,"rsi":38.5},{"hour":183,"rsi":40.1},{"hour":186,"rsi":39.4},{"hour":188,"rsi":36.6},{"hour":190,"rsi":36},{"hour":194,"rsi":34.4},{"hour":196,"rsi":33.5},{"hour":197,"rsi":34.4},{"hour":199,"rsi":36.4},{"hour":201,"rsi":38.4},{"hour":202,"rsi":40.8},{"hour":205,"rsi":43},{"hour":208,"rsi":44.3},{"hour":211,"rsi":44.6},{"hour":213,"rsi":43.3},{"hour":215,"rsi":44.9},{"hour":220,"rsi":46.8},{"hour":223,"rsi":51.3},{"hour":225,"rsi":54.7},{"hour":228,"rsi":56.2},{"hour":232,"rsi":54.6},{"hour":235,"rsi":51.3},{"hour":237,"rsi":47.7},{"hour":240,"rsi":44.2},{"hour":244,"rsi":41.8},{"hour":245,"rsi":41.7},{"hour":248,"rsi":43.3},{"hour":250,"rsi":43.5}],
"trendGreen":[{"hour":-2.47,"price":2606.4},{"hour":247.08,"price":1752.8}],
"trendRed":[{"hour":140.9,"price":2846.6},{"hour":272.1,"price":2110.6}],
"mainText":[
{"hour":-2.54,"price":2871.5,"label":"weetabixismyname published on TradingView.com, Apr 16, 2024 10:05 UTC","kind":"ink"},
{"hour":-1.44,"price":2829.4,"label":"Shiba Inu / United States Dollar, 1h, COINBASE","kind":"ink"},
{"hour":35.6,"price":2829.4,"label":"O","kind":"ink"},{"hour":36.98,"price":2829.4,"label":"0.00002157","kind":"down"},
{"hour":47.08,"price":2829.4,"label":"H","kind":"ink"},{"hour":48.32,"price":2829.4,"label":"0.00002162","kind":"down"},
{"hour":58.63,"price":2829.4,"label":"L","kind":"ink"},{"hour":59.45,"price":2829.4,"label":"0.00002155","kind":"down"},
{"hour":69.83,"price":2829.4,"label":"C","kind":"ink"},{"hour":70.93,"price":2829.4,"label":"0.00002156","kind":"down"},
{"hour":81.24,"price":2829.4,"label":"−0.00000003 (−0.14%)","kind":"down"},
{"hour":-1.44,"price":2803.7,"label":"Vol · SHIB","kind":"ink"},{"hour":7.15,"price":2803.7,"label":"3.711B","kind":"down"},
{"hour":-1.44,"price":2776.4,"label":"EMA (30, close, 0, SMA, 5)","kind":"ink"},{"hour":20.34,"price":2776.4,"label":"0.00002194","kind":"ema30"},
{"hour":-1.44,"price":2749.9,"label":"EMA (200, close, 0, SMA, 5)","kind":"ink"},{"hour":21.37,"price":2749.9,"label":"0.00002465","kind":"ema200"},
{"hour":280.4,"price":2831,"label":"USD","kind":"ink"},
{"hour":270.6,"price":2156.6,"label":"SHIBUSD","kind":"white"},
{"hour":279.8,"price":2156.6,"label":"0.00002156","kind":"white"},
{"hour":279.8,"price":2134,"label":"54:11","kind":"muted"}
],
"tags":[{"hour":269.9,"hour2":278.3,"price":2169,"price2":2142.6},{"hour":278.5,"hour2":290.2,"price":2169,"price2":2121}],
"usdBox":[{"hour":279.1,"hour2":290.3,"price":2851,"price2":2811.5}],
"usdMask":[{"hour":279.1,"hour2":290.3,"price":2811,"price2":2807}],
"frame":[{"hour":-2.54,"hour2":291.9,"price":2858,"price2":2858},{"hour":-2.54,"hour2":291.9,"price":1492,"price2":1492},{"hour":291.9,"hour2":291.9,"price":2858,"price2":1492},{"hour":-2.54,"hour2":-2.54,"price":2858,"price2":1492}],
"gridPrice":[{"hour":-2.54,"hour2":278.7,"price":1500},{"hour":-2.54,"hour2":278.7,"price":1550},{"hour":-2.54,"hour2":278.7,"price":1600},{"hour":-2.54,"hour2":278.7,"price":1650},{"hour":-2.54,"hour2":278.7,"price":1700},{"hour":-2.54,"hour2":278.7,"price":1750},{"hour":-2.54,"hour2":278.7,"price":1800},{"hour":-2.54,"hour2":278.7,"price":1850},{"hour":-2.54,"hour2":278.7,"price":1900},{"hour":-2.54,"hour2":278.7,"price":1950},{"hour":-2.54,"hour2":278.7,"price":2000},{"hour":-2.54,"hour2":278.7,"price":2050},{"hour":-2.54,"hour2":278.7,"price":2100},{"hour":-2.54,"hour2":278.7,"price":2150},{"hour":-2.54,"hour2":278.7,"price":2200},{"hour":-2.54,"hour2":278.7,"price":2250},{"hour":-2.54,"hour2":278.7,"price":2300},{"hour":-2.54,"hour2":278.7,"price":2350},{"hour":-2.54,"hour2":278.7,"price":2400},{"hour":-2.54,"hour2":278.7,"price":2450},{"hour":-2.54,"hour2":278.7,"price":2500},{"hour":-2.54,"hour2":278.7,"price":2550},{"hour":-2.54,"hour2":278.7,"price":2600},{"hour":-2.54,"hour2":278.7,"price":2650},{"hour":-2.54,"hour2":278.7,"price":2700},{"hour":-2.54,"hour2":278.7,"price":2750},{"hour":-2.54,"hour2":278.7,"price":2800},{"hour":-2.54,"hour2":278.7,"price":2850}],
"gridHour":[{"hour":0},{"hour":12},{"hour":24},{"hour":36},{"hour":48},{"hour":60},{"hour":72},{"hour":84},{"hour":96},{"hour":108},{"hour":120},{"hour":132},{"hour":144},{"hour":156},{"hour":168},{"hour":180},{"hour":192},{"hour":204},{"hour":216},{"hour":228},{"hour":240},{"hour":252},{"hour":264},{"hour":276}],
"gridRsi":[{"hour":-2.54,"hour2":278.7,"rsi":20},{"hour":-2.54,"hour2":278.7,"rsi":40},{"hour":-2.54,"hour2":278.7,"rsi":60},{"hour":-2.54,"hour2":278.7,"rsi":80}],
"lastPrice":[{"hour":-2.54,"hour2":278.7,"price":2156}],
"events":[{"hour":249.7,"price":1513.4,"type":"news"},{"hour":251.8,"price":1513.4,"type":"us"},{"hour":256.8,"price":1513.4,"type":"us"}],
"rsiBand":[{"hour":-2.54,"hour2":278.7,"lo":30,"hi":70}],
"rsiLevels":[{"hour":-2.54,"hour2":278.7,"level":70,"tone":"edge"},{"hour":-2.54,"hour2":278.7,"level":50,"tone":"mid"},{"hour":-2.54,"hour2":278.7,"level":30,"tone":"edge"}],
"rsiText":[
{"hour":-1.44,"rsi":78.25,"label":"RSI (14, close)","kind":"ink"},{"hour":10.65,"rsi":78.25,"label":"44.14","kind":"rsi"},{"hour":15.95,"rsi":78.25,"label":"43.50","kind":"rsiMA"},
{"hour":21.4,"rsi":78.25,"label":"∅","kind":"ink"},{"hour":23.5,"rsi":78.25,"label":"∅","kind":"ink"},{"hour":25.7,"rsi":78.25,"label":"∅","kind":"ink"},{"hour":27.7,"rsi":78.25,"label":"∅","kind":"ink"},{"hour":29.8,"rsi":78.25,"label":"∅","kind":"ink"},{"hour":32,"rsi":78.25,"label":"∅","kind":"ink"},
{"hour":0.62,"rsi":-13,"label":"TradingView","kind":"ink"}
],
"rsiFrame":[{"hour":-2.54,"hour2":291.9,"rsi":-6.9,"rsi2":-6.9},{"hour":-2.54,"hour2":-2.54,"rsi":2.86,"rsi2":-6.9},{"hour":291.9,"hour2":291.9,"rsi":84.4,"rsi2":-6.9},{"hour":-2.54,"hour2":291.9,"rsi":2.86,"rsi2":2.86},{"hour":278.7,"hour2":278.7,"rsi":84.4,"rsi2":-6.9},{"hour":-2.54,"hour2":-2.54,"rsi":84.4,"rsi2":2.86}],
"logo":[{"hour":-1.23,"rsi":-12.6}]
},
"resolve":{"scale":{"y":"independent","color":"independent","opacity":"independent"}},
"encoding":{"x":{"field":"hour","type":"quantitative","scale":{"domain":[-2.54,278.7],"range":[19,3914],"nice":false,"zero":false},
"axis":{"title":null,"orient":"bottom","offset":-122,"values":[0,12,24,36,48,60,72,84,96,108,120,132,144,156,168,180,192,204,216,228,240,252,264,276],"labelExpr":"datum.value%24===0?''+(6+datum.value/24):'12:00'","labelFont":"Inter","labelFontSize":23,"labelColor":"#131722","labelFontWeight":{"condition":{"test":"datum.value==48||datum.value==216","value":"bold"},"value":"normal"},"labelOverlap":false,"labelFlush":false,"grid":false,"tickColor":"#e0e0e0","tickSize":6,"labelPadding":10,"domain":false,"zindex":0}}},
"layer":[
{"encoding":{"y":{"field":"price","type":"quantitative","scale":{"domain":[1492,2858],"range":[1805,53],"nice":false,"zero":false},"axis":null}},
"layer":[
{"data":{"name":"gridPrice"},"mark":{"type":"rule","color":"#f2f3f5","strokeWidth":2},"encoding":{"x2":{"field":"hour2"}}},
{"data":{"name":"gridHour"},"mark":{"type":"rule","color":"#f2f3f5","strokeWidth":2},"encoding":{"y":{"datum":1492},"y2":{"datum":2858}}},
{"data":{"name":"frame"},"mark":{"type":"rule","color":"#eeeeee","strokeWidth":2},"encoding":{"x2":{"field":"hour2"},"y2":{"field":"price2"}}},
{"data":{"name":"lastPrice"},"mark":{"type":"rule","color":"#ef5350","strokeWidth":2,"strokeDash":[2,5]},"encoding":{"x2":{"field":"hour2"}}}
]},
{"data":{"name":"candles"},"mark":{"type":"bar","size":11,"opacity":0.5},
"encoding":{"y":{"field":"vol","type":"quantitative","scale":{"domain":[-2,1750],"range":[1805,53],"nice":false,"zero":false},"axis":null},"y2":{"datum":0},
"color":{"condition":{"test":"datum.close>=datum.open","value":"#26a69a"},"value":"#ef5350"}}},
{"encoding":{"y":{"field":"price","type":"quantitative","scale":{"domain":[1492,2858],"range":[1805,53],"nice":false,"zero":false,"clamp":true},
"axis":{"title":null,"orient":"right","offset":-396,"values":[1500,1550,1600,1650,1700,1750,1800,1850,1900,1950,2000,2050,2100,2150,2200,2250,2300,2350,2400,2450,2500,2550,2600,2650,2700,2750,2800],"labelExpr":"'0.0000'+datum.value","grid":false,"ticks":false,"domain":true,"domainColor":"#e8e8e8","domainWidth":3,"labelPadding":14,"labelFont":"Inter","labelFontSize":23,"labelColor":"#131722","labelOverlap":false,"labelFlush":false,"zindex":0}}},
"layer":[
{"data":{"name":"candles"},"mark":{"type":"rule","strokeWidth":2},"encoding":{"y":{"field":"low","type":"quantitative"},"y2":{"field":"high"},"color":{"condition":{"test":"datum.close>=datum.open","value":"#26a69a"},"value":"#ef5350"}}},
{"data":{"name":"candles"},"mark":{"type":"bar","size":11},"encoding":{"y":{"field":"open","type":"quantitative"},"y2":{"field":"close"},"color":{"condition":{"test":"datum.close>=datum.open","value":"#26a69a"},"value":"#ef5350"}}},
{"data":{"name":"ema200"},"mark":{"type":"line","color":"#2f22ee","strokeWidth":6,"strokeCap":"round"}},
{"data":{"name":"ema30"},"mark":{"type":"line","color":"#ff9800","strokeWidth":6,"strokeCap":"round"}}
]},
{"encoding":{"y":{"field":"rsi","type":"quantitative","scale":{"domain":[2.86,84.4],"range":[2274,1807],"nice":false,"zero":false},
"axis":{"title":null,"orient":"right","offset":-396,"values":[20,40,60,80],"format":".2f","grid":false,"ticks":false,"domain":false,"labelPadding":14,"labelFont":"Inter","labelFontSize":23,"labelColor":"#131722","zindex":0}}},
"resolve":{"scale":{"color":"independent","opacity":"independent"}},
"layer":[
{"data":{"name":"gridRsi"},"mark":{"type":"rule","color":"#eceaf3","strokeWidth":2},"encoding":{"x2":{"field":"hour2"}}},
{"data":{"name":"gridHour"},"mark":{"type":"rule","color":"#f2f3f5","strokeWidth":2},"encoding":{"y":{"datum":2.86},"y2":{"datum":84.4}}},
{"data":{"name":"rsiFrame"},"mark":{"type":"rule","color":"#e9e9e9","strokeWidth":2.5},"encoding":{"x2":{"field":"hour2"},"y2":{"field":"rsi2"}}},
{"data":{"name":"rsiBand"},"mark":{"type":"rect","color":"#7e57c2","opacity":0.1},"encoding":{"y":{"field":"lo","type":"quantitative"},"y2":{"field":"hi"},"x2":{"field":"hour2"}}},
{"data":{"name":"rsiLevels"},"mark":{"type":"rule","color":"#787b86","strokeWidth":2,"strokeDash":[10,10]},"encoding":{"y":{"field":"level","type":"quantitative"},"x2":{"field":"hour2"},"opacity":{"field":"tone","type":"nominal","scale":{"domain":["edge","mid"],"range":[1,0.45]},"legend":null}}},
{"data":{"name":"candles"},"transform":[{"filter":"datum.hour>=160&&datum.hour<=166"}],"mark":{"type":"area","color":{"gradient":"linear","x1":0,"y1":0,"x2":0,"y2":1,"stops":[{"offset":0,"color":"#ffffff"},{"offset":1,"color":"#ff6b6b"}]}},"encoding":{"y2":{"datum":30}}},
{"data":{"name":"candles"},"transform":[{"filter":"datum.hour>=187&&datum.hour<=189"}],"mark":{"type":"area","color":{"gradient":"linear","x1":0,"y1":0,"x2":0,"y2":1,"stops":[{"offset":0,"color":"#ffffff"},{"offset":1,"color":"#ffc9c9"}]}},"encoding":{"y2":{"datum":30}}},
{"data":{"name":"candles"},"transform":[{"filter":"datum.hour>=25&&datum.hour<=28"}],"mark":{"type":"area","color":{"gradient":"linear","x1":0,"y1":1,"x2":0,"y2":0,"stops":[{"offset":0,"color":"#ffffff"},{"offset":1,"color":"#cdeee0"}]}},"encoding":{"y2":{"datum":70}}},
{"data":{"name":"rsiMA"},"mark":{"type":"line","color":"#f9e86a","strokeWidth":3}},
{"data":{"name":"candles"},"mark":{"type":"line","color":"#7e57c2","strokeWidth":2}},
{"data":{"name":"rsiText"},"mark":{"type":"text","align":"left","baseline":"middle","font":"Inter","fontSize":23},"encoding":{"text":{"field":"label"},"color":{"field":"kind","type":"nominal","scale":{"domain":["ink","rsi","rsiMA"],"range":["#131722","#7e57c2","#f7e34e"]},"legend":null}}},
{"data":{"name":"logo"},"mark":{"type":"point","shape":"M-1,-.62 H-.12 V.62 H-.55 V-.15 H-1 Z M.55,-.62 H1 L.55,.62 H.05 Z M-.05,-.4 A.19,.19 0 1 0 .33,-.4 A.19,.19 0 1 0 -.05,-.4 Z","filled":true,"color":"#131722","size":1300,"opacity":1}}
]},
{"encoding":{"y":{"field":"price","type":"quantitative","scale":{"domain":[1492,2858],"range":[1805,53],"nice":false,"zero":false},"axis":null}},
"resolve":{"scale":{"color":"independent"}},
"layer":[
{"data":{"name":"trendGreen"},"mark":{"type":"line","color":"#4caf50","strokeWidth":7,"strokeCap":"round"}},
{"data":{"name":"trendRed"},"mark":{"type":"line","color":"#f23645","strokeWidth":8,"strokeCap":"round"}},
{"data":{"name":"usdMask"},"mark":{"type":"rect","color":"white"},"encoding":{"x2":{"field":"hour2"},"y2":{"field":"price2"}}},
{"data":{"name":"usdBox"},"mark":{"type":"rect","fill":"white","stroke":"#eeeeee","strokeWidth":2,"cornerRadius":8},"encoding":{"x2":{"field":"hour2"},"y2":{"field":"price2"}}},
{"data":{"name":"tags"},"mark":{"type":"rect","color":"#ef5350","cornerRadius":3},"encoding":{"x2":{"field":"hour2"},"y2":{"field":"price2"}}},
{"data":{"name":"events"},"mark":{"type":"point","shape":"circle","filled":false,"fill":"white","size":1270,"strokeWidth":4,"opacity":1},"encoding":{"color":{"field":"type","type":"nominal","scale":{"domain":["news","us"],"range":["#9c27b0","#f23645"]},"legend":null}}},
{"data":{"name":"events"},"transform":[{"filter":"datum.type=='news'"}],"mark":{"type":"point","shape":"M.2,-1 L-.45,.15 H-.05 L-.25,1 L.45,-.2 H.05 Z","filled":true,"color":"#9c27b0","size":800,"opacity":1}},
{"data":{"name":"events"},"transform":[{"filter":"datum.type=='us'"}],"mark":{"type":"point","shape":"M-1,.1 A1,1 0 0 0 1,.1 Z","filled":true,"color":"#f23645","size":900,"opacity":1}},
{"data":{"name":"events"},"transform":[{"filter":"datum.type=='us'"}],"mark":{"type":"point","shape":"M-.9,-.8 H.1 V.1 H-.9 Z","filled":true,"color":"#2196f3","size":900,"opacity":1}},
{"data":{"name":"mainText"},"mark":{"type":"text","align":"left","baseline":"middle","font":"Inter","fontSize":23},"encoding":{"text":{"field":"label"},"color":{"field":"kind","type":"nominal","scale":{"domain":["ink","down","ema30","ema200","white","muted"],"range":["#131722","#ef5350","#ff9800","#2f22ee","#ffffff","#fbd5d5"]},"legend":null}}}
]}
]}
